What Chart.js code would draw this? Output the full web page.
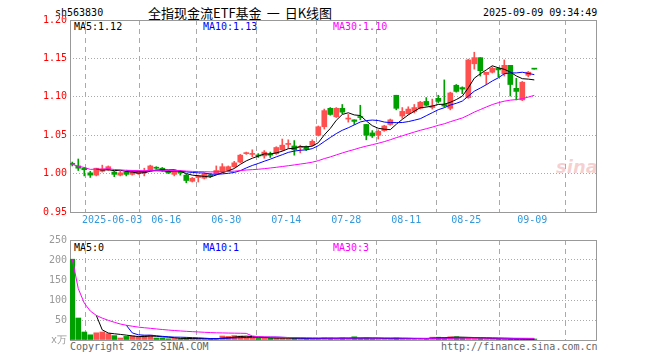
<!DOCTYPE html>
<html>
<head>
<meta charset="utf-8">
<script src="https://cdn.jsdelivr.net/npm/chart.js@4.4.1/dist/chart.umd.min.js"></script>
<style>
  body { margin: 0; background: #fff; width: 660px; height: 360px; position: relative; overflow: hidden; font-family: "DejaVu Sans Mono", monospace; font-size: 10px; }
  .t { position: absolute; white-space: pre; line-height: 12px; }
  #pc { position: absolute; left: 0; top: 0; }
  #vc { position: absolute; left: 0; top: 228px; }
  .wm { position: absolute; left: 556px; top: 156px; font: italic bold 18px "DejaVu Sans", sans-serif; color: rgba(225, 90, 90, 0.28); }
</style>
</head>
<body>
<div class="t" style="left:55px;top:7px;">sh563830</div>
<div class="t" style="left:148px;top:5px;font-family:'Noto Sans CJK SC';font-size:13px;line-height:15px;">全指现金流ETF基金<span style="margin:0 5px;">一</span>日K线图</div>
<div class="t" style="left:483px;top:7px;">2025-09-09 09:34:49</div>

<div class="t" style="left:74px;top:21px;color:#000;">MA5:1.12</div>
<div class="t" style="left:203px;top:21px;color:#00f;">MA10:1.13</div>
<div class="t" style="left:333px;top:21px;color:#f0f;">MA30:1.10</div>

<div class="t" style="left:74px;top:242px;color:#000;">MA5:0</div>
<div class="t" style="left:203px;top:242px;color:#00f;">MA10:1</div>
<div class="t" style="left:333px;top:242px;color:#f0f;">MA30:3</div>

<div class="t" style="left:70px;top:341px;color:#666;">Copyright 2025 SINA.COM</div>
<div class="t" style="left:441px;top:341px;color:#666;">http://finance.sina.com.cn</div>
<div class="wm">sina</div>

<canvas id="pc" width="660" height="232"></canvas>
<canvas id="vc" width="660" height="132"></canvas>

<script>
// trading day index (0 = 2025-05-22) of each date label
var dayIdx = [7, 16, 26, 36, 46, 56, 66, 77];
var dayLabels = ["2025-06-03", "06-16", "06-30", "07-14", "07-28", "08-11", "08-25", "09-09"];

var priceTicks = [0.95, 1.00, 1.05, 1.10, 1.15, 1.20];
var volTicks = [0, 50, 100, 150, 200, 250];

var opens = [1.013, 1.010, 1.007, 1.001, 0.998, 1.003, 1.005, 1.002, 0.998, 1.002,
  0.999, 1.000, 1.001, 1.005, 1.008, 1.007, 1.003, 0.999, 1.003, 0.998,
  0.990, 0.995, 0.994, 0.998, 1.000, 1.002, 1.004, 1.009, 1.015, 1.026,
  1.025, 1.024, 1.023, 1.025, 1.026, 1.031, 1.038, 1.036, 1.034, 1.035,
  1.037, 1.050, 1.061, 1.085, 1.074, 1.085, 1.071, 1.070, 1.074, 1.064,
  1.053, 1.050, 1.056, 1.064, 1.102, 1.075, 1.078, 1.081, 1.085, 1.094,
  1.086, 1.098, 1.090, 1.085, 1.115, 1.112, 1.099, 1.143, 1.151, 1.129,
  1.132, 1.137, 1.130, 1.141, 1.111, 1.096, 1.128, 1.137];
var closes = [1.012, 1.007, 1.005, 0.998, 1.007, 1.006, 1.009, 0.999, 1.001, 0.999,
  1.002, 1.002, 1.002, 1.010, 1.007, 1.004, 1.001, 1.003, 1.001, 0.991,
  0.994, 0.997, 0.999, 0.997, 1.004, 1.009, 1.009, 1.014, 1.024, 1.027,
  1.026, 1.023, 1.028, 1.024, 1.034, 1.037, 1.039, 1.031, 1.035, 1.032,
  1.042, 1.061, 1.082, 1.077, 1.085, 1.080, 1.072, 1.068, 1.073, 1.050,
  1.049, 1.055, 1.062, 1.070, 1.085, 1.081, 1.084, 1.086, 1.093, 1.089,
  1.088, 1.094, 1.088, 1.105, 1.107, 1.110, 1.148, 1.151, 1.134, 1.132,
  1.137, 1.135, 1.141, 1.116, 1.107, 1.119, 1.132, 1.136];
var highs = [1.015, 1.019, 1.008, 1.003, 1.007, 1.011, 1.010, 1.003, 1.003, 1.003,
  1.004, 1.004, 1.007, 1.011, 1.009, 1.008, 1.004, 1.004, 1.004, 0.999,
  0.995, 0.998, 1.001, 1.000, 1.010, 1.013, 1.010, 1.016, 1.025, 1.028,
  1.031, 1.026, 1.030, 1.028, 1.035, 1.045, 1.044, 1.043, 1.037, 1.036,
  1.044, 1.062, 1.084, 1.086, 1.086, 1.090, 1.077, 1.070, 1.089, 1.064,
  1.056, 1.057, 1.063, 1.071, 1.102, 1.086, 1.087, 1.090, 1.094, 1.099,
  1.097, 1.102, 1.122, 1.106, 1.116, 1.113, 1.149, 1.158, 1.151, 1.132,
  1.139, 1.138, 1.148, 1.141, 1.124, 1.120, 1.133, 1.137];
var lows = [1.010, 1.004, 0.997, 0.995, 0.997, 1.002, 1.004, 0.996, 0.997, 0.997,
  0.998, 0.999, 0.997, 1.004, 1.006, 1.003, 1.000, 0.997, 0.998, 0.988,
  0.989, 0.989, 0.993, 0.995, 0.999, 1.001, 1.003, 1.008, 1.014, 1.025,
  1.022, 1.021, 1.020, 1.021, 1.025, 1.030, 1.033, 1.024, 1.027, 1.030,
  1.036, 1.049, 1.058, 1.076, 1.073, 1.078, 1.067, 1.064, 1.070, 1.044,
  1.047, 1.045, 1.055, 1.063, 1.083, 1.072, 1.077, 1.079, 1.084, 1.088,
  1.084, 1.092, 1.087, 1.083, 1.106, 1.104, 1.098, 1.136, 1.127, 1.116,
  1.131, 1.126, 1.127, 1.101, 1.096, 1.095, 1.126, 1.136];
// volume, 万
var volumes = [202, 55, 20, 13, 18, 20, 16, 11, 5, 9,
  10, 8, 11, 12, 5, 5, 3, 4, 3, 5,
  3, 3, 3, 2, 4, 10, 9, 11, 10, 8,
  5, 4, 6, 4, 5, 5, 4, 4, 3, 3,
  3, 4, 6, 5, 4, 5, 4, 8, 4, 5,
  3, 3, 4, 3, 5, 3, 3, 4, 4, 4,
  7, 7, 6, 8, 8, 6, 5, 4, 4, 3,
  3, 3, 2, 3, 2, 2, 1, 1];

var UP = "#ff5050", DOWN = "#00a000";
var GRID_SHIFT = -0.35; // date lines sit on the left edge of the candle
var FONT = { family: "DejaVu Sans Mono", size: 10 };

Chart.defaults.font.family = "DejaVu Sans Mono";
Chart.defaults.font.size = 10;

var colors = opens.map(function (o, i) { return closes[i] > o ? UP : DOWN; });

function ma(src, n, partial) {
  return src.map(function (v, i) {
    if (i < n - 1 && !partial) return { x: i, y: null };
    var s = Math.max(0, i - n + 1), sum = 0;
    for (var k = s; k <= i; k++) sum += src[k];
    return { x: i, y: sum / (i - s + 1) };
  });
}

function lineSet(data, color, order) {
  return { type: "line", data: data, borderColor: color, borderWidth: 1, pointRadius: 0, fill: false, order: order };
}

var boxPlugin = {
  id: "box",
  beforeDatasetsDraw: function (chart) {
    var a = chart.chartArea, c = chart.ctx;
    c.save();
    c.strokeStyle = "#999";
    c.lineWidth = 1;
    c.strokeRect(a.left + 0.5, a.top + 0.5, a.right - a.left - 1, a.bottom - a.top);
    c.restore();
  }
};

function xScale(showLabels) {
  return {
    type: "linear", min: -0.38, max: 87.45, offset: false, bounds: "data",
    afterBuildTicks: function (s) {
      s.ticks = dayIdx.map(function (d) { return { value: d + GRID_SHIFT }; });
    },
    ticks: {
      display: showLabels, autoSkip: false, maxRotation: 0, padding: 2, color: "#3399dd", font: FONT,
      callback: function (v, i) { return dayLabels[i]; }
    },
    grid: { color: "#aaa", drawTicks: false },
    border: { display: false, dash: [5, 4] },
    afterFit: function (s) { s.height = showLabels ? 20 : 0; }
  };
}

function yScale(min, max, tickList, color, fmt) {
  return {
    min: min, max: max,
    afterBuildTicks: function (s) {
      s.ticks = tickList.map(function (v) { return { value: v }; });
    },
    ticks: { color: color, padding: 3, font: FONT, callback: fmt },
    grid: { color: "#aaa", drawTicks: false },
    border: { display: false, dash: [1, 2] },
    afterFit: function (s) { s.width = 70; }
  };
}

new Chart(document.getElementById("pc"), {
  type: "bar",
  data: {
    datasets: [
      lineSet(ma(closes, 30, true), "#ff00ff", 0),
      lineSet(ma(closes, 10, false), "#0000ff", 1),
      lineSet(ma(closes, 5, false), "#000000", 2),
      {
        data: opens.map(function (o, i) { return { x: i, y: [o, closes[i]] }; }),
        backgroundColor: colors, barThickness: 5, grouped: false, minBarLength: 1, order: 4
      },
      {
        data: lows.map(function (l, i) { return { x: i, y: [l, highs[i]] }; }),
        backgroundColor: colors, barThickness: 1, grouped: false, order: 5
      }
    ]
  },
  options: {
    responsive: false, animation: false,
    layout: { padding: { top: 20, right: 63, left: 0, bottom: 0 } },
    plugins: { legend: { display: false }, tooltip: { enabled: false } },
    scales: {
      x: xScale(true),
      y: yScale(0.95, 1.20, priceTicks, "#f00", function (v) { return v.toFixed(2); })
    }
  },
  plugins: [boxPlugin]
});

new Chart(document.getElementById("vc"), {
  type: "bar",
  data: {
    datasets: [
      lineSet(ma(volumes, 30, true), "#ff00ff", 0),
      lineSet(ma(volumes, 10, false), "#0000ff", 1),
      lineSet(ma(volumes, 5, false), "#000000", 2),
      {
        data: volumes.map(function (v, i) { return { x: i, y: v }; }),
        backgroundColor: colors, barThickness: 5, grouped: false, minBarLength: 1, order: 4
      }
    ]
  },
  options: {
    responsive: false, animation: false,
    layout: { padding: { top: 12, right: 63, left: 0, bottom: 20 } },
    plugins: { legend: { display: false }, tooltip: { enabled: false } },
    scales: {
      x: xScale(false),
      y: yScale(0, 250, volTicks, "#999", function (v) { return v === 0 ? "x万" : v; })
    }
  },
  plugins: [boxPlugin]
});
</script>
</body>
</html>
